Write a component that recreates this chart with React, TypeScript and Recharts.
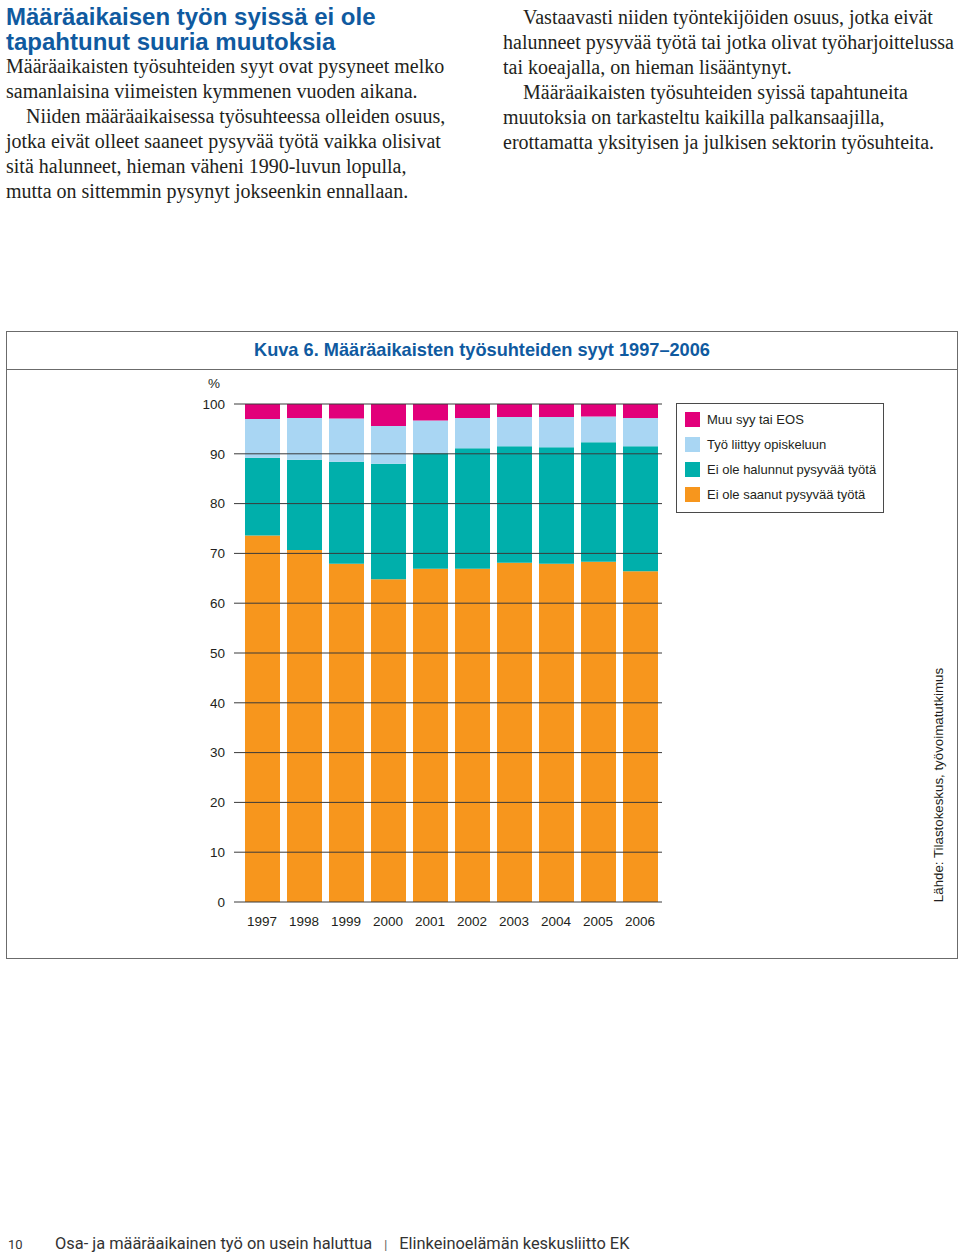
import { Bar, BarChart, ReferenceLine, XAxis, YAxis } from "recharts";

const years = ["1997", "1998", "1999", "2000", "2001", "2002", "2003", "2004", "2005", "2006"];
const notFound = [73.6, 70.7, 67.9, 64.8, 66.9, 66.9, 68.1, 67.9, 68.3, 66.4];
const notWanted = [15.6, 18.1, 20.5, 23.2, 23.2, 24.2, 23.4, 23.4, 24.0, 25.1];
const study = [7.8, 8.4, 8.7, 7.6, 6.6, 6.1, 5.9, 6.1, 5.2, 5.7];
const other = [3.0, 2.8, 2.9, 4.4, 3.3, 2.8, 2.6, 2.6, 2.5, 2.8];
const yTicks = [0, 10, 20, 30, 40, 50, 60, 70, 80, 90, 100];

const series = [
  { key: "notFound", label: "Ei ole saanut pysyvää työtä", color: "#f7961d" },
  { key: "notWanted", label: "Ei ole halunnut pysyvää työtä", color: "#00afab" },
  { key: "study", label: "Työ liittyy opiskeluun", color: "#a9d6f3" },
  { key: "other", label: "Muu syy tai EOS", color: "#e2007a" },
];

const data = years.map((year, i) => ({
  year,
  notFound: notFound[i],
  notWanted: notWanted[i],
  study: study[i],
  other: other[i],
}));

const leftLines = [
  "Määräaikaisten työsuhteiden syyt ovat pysyneet melko",
  "samanlaisina viimeisten kymmenen vuoden aikana.",
  "\u00a0\u00a0\u00a0\u00a0Niiden määräaikaisessa työsuhteessa olleiden osuus,",
  "jotka eivät olleet saaneet pysyvää työtä vaikka olisivat",
  "sitä halunneet, hieman väheni 1990-luvun lopulla,",
  "mutta on sittemmin pysynyt jokseenkin ennallaan.",
];

const rightLines = [
  "\u00a0\u00a0\u00a0\u00a0Vastaavasti niiden työntekijöiden osuus, jotka eivät",
  "halunneet pysyvää työtä tai jotka olivat työharjoittelussa",
  "tai koeajalla, on hieman lisääntynyt.",
  "\u00a0\u00a0\u00a0\u00a0Määräaikaisten työsuhteiden syissä tapahtuneita",
  "muutoksia on tarkasteltu kaikilla palkansaajilla,",
  "erottamatta yksityisen ja julkisen sektorin työsuhteita.",
];

const sans = "'Liberation Sans', Arial, sans-serif";
const serif = "'Liberation Serif', 'Times New Roman', serif";

export default function App() {
  const bodyStyle = {
    fontFamily: serif,
    fontSize: 20,
    lineHeight: "25px",
    color: "#231f20",
    whiteSpace: "nowrap" as const,
  };
  return (
    <div style={{ position: "absolute", left: 0, top: 0, width: 960, height: 1254, background: "#fff", overflow: "hidden" }}>
      <div style={{ position: "absolute", left: 6, top: 4 }}>
        <div style={{ fontFamily: sans, fontWeight: 700, fontSize: 24, lineHeight: "25px", color: "#0f5aa0" }}>
          <div>Määräaikaisen työn syissä ei ole</div>
          <div>tapahtunut suuria muutoksia</div>
        </div>
        <div style={bodyStyle}>
          {leftLines.map((l) => (
            <div key={l}>{l}</div>
          ))}
        </div>
      </div>
      <div style={{ position: "absolute", left: 503, top: 5, ...bodyStyle }}>
        {rightLines.map((l) => (
          <div key={l}>{l}</div>
        ))}
      </div>

      {/* frame */}
      <div
        style={{
          position: "absolute",
          left: 6,
          top: 331,
          width: 952,
          height: 628,
          border: "1.5px solid #6b6b6b",
          boxSizing: "border-box",
        }}
      >
        <div
          style={{
            height: 38,
            borderBottom: "1.5px solid #6b6b6b",
            textAlign: "center",
            fontFamily: sans,
            fontWeight: 700,
            fontSize: 18.2,
            lineHeight: "37px",
            color: "#0f5aa0",
            boxSizing: "border-box",
          }}
        >
          Kuva 6. Määräaikaisten työsuhteiden syyt 1997–2006
        </div>
      </div>

      <div style={{ position: "absolute", left: 0, top: 370 }}>
        <BarChart
          width={960}
          height={580}
          data={data}
          margin={{ top: 34, right: 298, bottom: 18, left: 194 }}
        >
          <XAxis
            dataKey="year"
            axisLine={false}
            tickLine={false}
            tickSize={0}
            tickMargin={14}
            padding={{ left: 7, right: 1 }}
            tick={{ fill: "#231f20", fontSize: 13.5, fontFamily: sans }}
          />
          <YAxis
            type="number"
            domain={[0, 100]}
            ticks={yTicks}
            width={40}
            axisLine={false}
            tickLine={false}
            tickSize={0}
            tickMargin={9}
            tick={{ fill: "#231f20", fontSize: 13.5, fontFamily: sans }}
          />
          {series.map((s) => (
            <Bar
              key={s.key}
              dataKey={s.key}
              stackId="a"
              fill={s.color}
              barSize={35}
              isAnimationActive={false}
            />
          ))}
          {yTicks.map((t) => (
            <ReferenceLine key={t} y={t} stroke="#3a3a3a" strokeWidth={1} />
          ))}
        </BarChart>
      </div>

      <div style={{ position: "absolute", left: 208, top: 376, fontFamily: sans, fontSize: 13.5, color: "#231f20" }}>%</div>

      {/* legend */}
      <div
        style={{
          position: "absolute",
          left: 676,
          top: 403,
          width: 208,
          height: 110,
          border: "1px solid #4a4a4a",
          boxSizing: "border-box",
          paddingTop: 3,
          paddingLeft: 8,
        }}
      >
        {[...series].reverse().map((s) => (
          <div key={s.key} style={{ display: "flex", alignItems: "center", height: 25 }}>
            <div style={{ width: 15, height: 15, background: s.color, marginRight: 7 }} />
            <span style={{ fontFamily: sans, fontSize: 13, color: "#231f20", whiteSpace: "nowrap" }}>{s.label}</span>
          </div>
        ))}
      </div>

      <div
        style={{
          position: "absolute",
          left: 938,
          top: 785,
          transform: "translate(-50%, -50%) rotate(-90deg)",
          fontFamily: sans,
          fontSize: 13.3,
          color: "#231f20",
          whiteSpace: "nowrap",
        }}
      >
        Lähde: Tilastokeskus, työvoimatutkimus
      </div>

      {/* footer */}
      <div style={{ position: "absolute", left: 8, top: 1237, fontFamily: "Roboto, sans-serif", fontSize: 13, color: "#333" }}>10</div>
      <div
        style={{
          position: "absolute",
          left: 55,
          top: 1234,
          fontFamily: "Roboto, sans-serif",
          fontSize: 16.4,
          color: "#333",
          whiteSpace: "nowrap",
        }}
      >
        Osa- ja määräaikainen työ on usein haluttua
        <span style={{ margin: "0 12px", fontSize: 12, color: "#555" }}>|</span>
        Elinkeinoelämän keskusliitto EK
      </div>
    </div>
  );
}
